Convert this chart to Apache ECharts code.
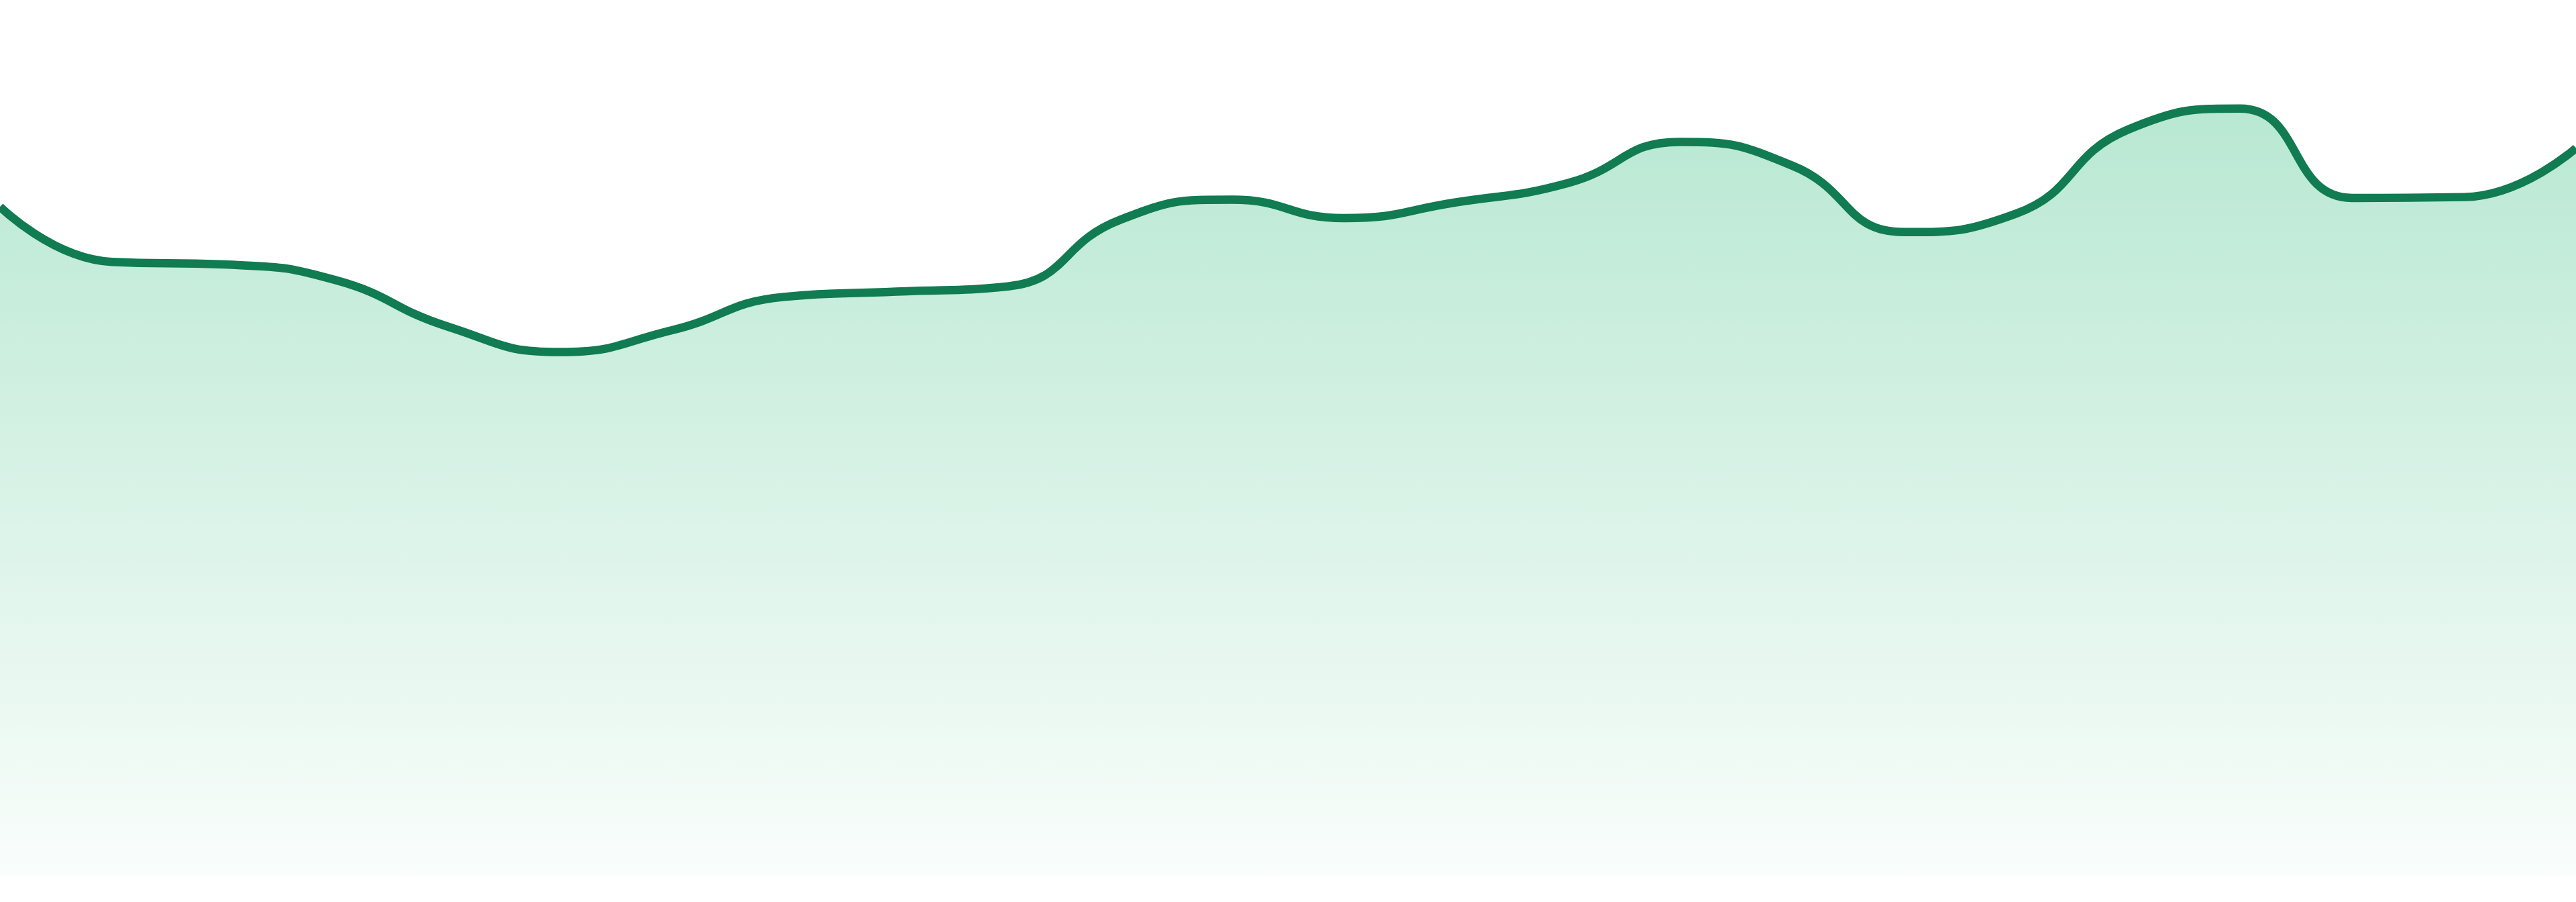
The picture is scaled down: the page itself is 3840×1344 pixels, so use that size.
<!DOCTYPE html>
<html>
<head>
<meta charset="utf-8">
<script src="https://cdn.jsdelivr.net/npm/echarts@6/dist/echarts.min.js"></script>
<style>
html,body{margin:0;padding:0;background:#ffffff;}
#chart{width:3840px;height:1344px;}
</style>
</head>
<body>
<div id="chart"></div>
<script>
const categories = ['1','2','3','4','5','6','7','8','9','10','11','12','13','14','15','16','17','18','19','20','21','22','23','24'];
const values = [76.4, 70.1, 69.8, 68.0, 62.7, 59.8, 62.3, 66.1, 66.7, 67.3, 74.9, 77.2, 75.1, 76.9, 79.1, 83.8, 81.1, 73.5, 75.6, 85.2, 87.6, 77.4, 77.5, 83.1];

const chart = echarts.init(document.getElementById('chart'));
chart.setOption({
  animation: false,
  backgroundColor: '#ffffff',
  grid: { left: 0, right: 0, top: 0, bottom: 39 },
  xAxis: {
    type: 'category',
    data: categories,
    boundaryGap: false,
    show: false
  },
  yAxis: {
    type: 'value',
    min: 0,
    max: 100,
    show: false
  },
  series: [{
    type: 'line',
    data: values,
    smooth: true,
    showSymbol: false,
    symbol: 'none',
    lineStyle: { color: '#117b51', width: 12.5 },
    areaStyle: {
      opacity: 1,
      color: new echarts.graphic.LinearGradient(0, 0, 0, 1, [
        { offset: 0, color: 'rgba(184,232,210,1)' },
        { offset: 1, color: 'rgba(184,232,210,0.08)' }
      ])
    }
  }]
});
</script>
</body>
</html>
